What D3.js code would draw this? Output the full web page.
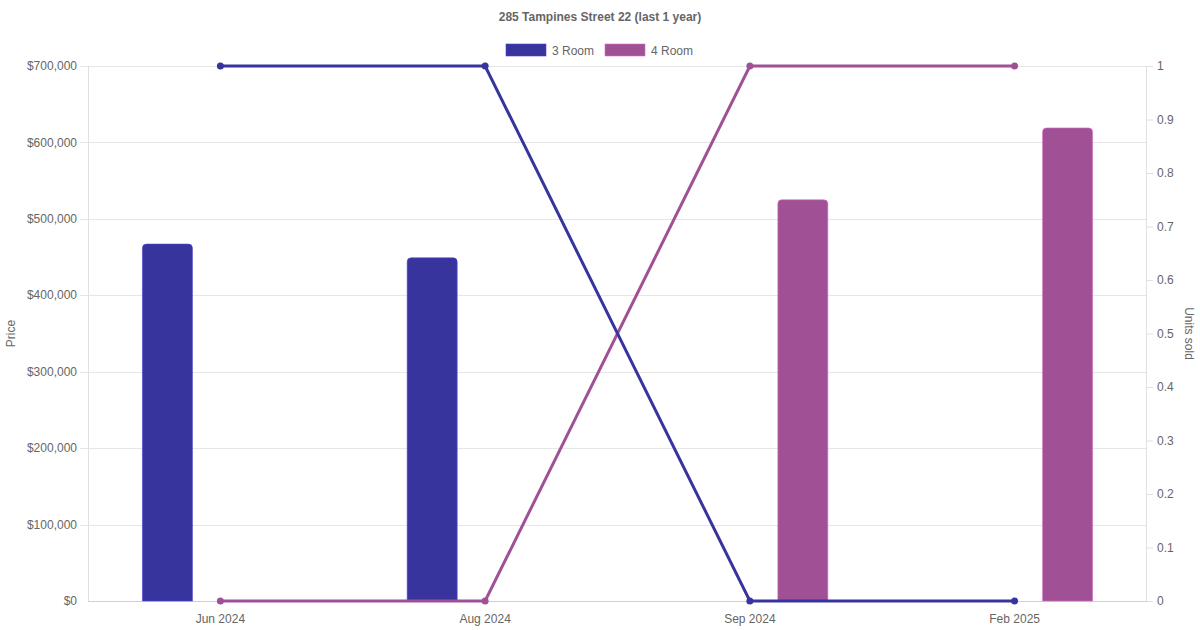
<html>
<head>
<script src="https://cdn.jsdelivr.net/npm/d3@7"></script>
<style>
  body { margin: 0; background: #fff; }
  text { font-family: "Liberation Sans", Arial, sans-serif; }
</style>
</head>
<body>
<script>

var months = ["Jun 2024", "Aug 2024", "Sep 2024", "Feb 2025"];
var series = ["3 Room", "4 Room"];
var colors = ["#38349e", "#a05195"];

// median price per month (null = no sale)
var price3 = [467000, 449000, null, null];
var price4 = [null, null, 525000, 619000];

// units sold
var units3 = [1, 1, 0, 0];
var units4 = [0, 0, 1, 1];

var priceTicks = [0, 100000, 200000, 300000, 400000, 500000, 600000, 700000];
var unitTicks = [0, 0.1, 0.2, 0.3, 0.4, 0.5, 0.6, 0.7, 0.8, 0.9, 1];

var W = 1200, H = 630;
var margin = {top: 66, right: 53, bottom: 29, left: 88};
var width = W - margin.left - margin.right,
    height = H - margin.top - margin.bottom;

var svg = d3.select("body").append("svg").attr("width", W).attr("height", H);
var g = svg.append("g").attr("transform", "translate(" + margin.left + "," + margin.top + ")");

var x = d3.scaleBand().domain(months).range([0, width]);
var xSub = d3.scaleBand().domain(series).range([0, x.bandwidth() * 0.8]);
var yPrice = d3.scaleLinear().domain([0, 700000]).range([height, 0]);
var yUnits = d3.scaleLinear().domain([0, 1]).range([height, 0]);

// gridlines
g.append("g").selectAll("line").data(priceTicks).enter().append("line")
    .attr("x1", function(d) { return d === 0 ? 0 : -8; })
    .attr("x2", width)
    .attr("y1", function(d) { return Math.round(yPrice(d)) + 0.5; })
    .attr("y2", function(d) { return Math.round(yPrice(d)) + 0.5; })
    .attr("stroke", function(d) { return d === 0 ? "#d0d0d0" : "#e6e6e6"; });

// left + right borders
g.append("line").attr("x1", 0.5).attr("x2", 0.5).attr("y1", 0).attr("y2", height).attr("stroke", "#e0e0e0");
g.append("line").attr("x1", width - 0.5).attr("x2", width - 0.5).attr("y1", 0).attr("y2", height).attr("stroke", "#e0e0e0");

// left axis labels
g.append("g").selectAll("text").data(priceTicks).enter().append("text")
    .attr("x", -11)
    .attr("y", function(d) { return yPrice(d); })
    .attr("dy", "0.35em")
    .attr("text-anchor", "end")
    .attr("font-size", 12)
    .attr("fill", "#666")
    .text(function(d) { return "$" + d3.format(",")(d); });

// right axis
var yAxisR = d3.axisRight(yUnits).tickValues(unitTicks).tickSize(6).tickPadding(4)
    .tickFormat(function(d) { return d3.format("~g")(d); });
var ra = g.append("g").attr("transform", "translate(" + width + ",0)").call(yAxisR);
ra.select(".domain").remove();
ra.selectAll("line").attr("stroke", "#e0e0e0");
ra.selectAll("text").attr("font-size", 12).attr("fill", "#666").attr("font-family", "Liberation Sans, Arial, sans-serif");

// bottom labels
g.append("g").selectAll("text").data(months).enter().append("text")
    .attr("x", function(d) { return x(d) + x.bandwidth() / 2; })
    .attr("y", height + 22)
    .attr("text-anchor", "middle")
    .attr("font-size", 12)
    .attr("fill", "#666")
    .text(function(d) { return d; });

// bars (rounded top)
function barPath(x0, y0, w, h, r) {
    r = Math.min(r, h);
    return "M" + x0 + "," + (y0 + h) + "V" + (y0 + r) +
        "Q" + x0 + "," + y0 + " " + (x0 + r) + "," + y0 +
        "H" + (x0 + w - r) + "Q" + (x0 + w) + "," + y0 + " " + (x0 + w) + "," + (y0 + r) +
        "V" + (y0 + h) + "Z";
}
var priceSets = [price3, price4];
var barW = 50;
priceSets.forEach(function(vals, si) {
    g.append("g").selectAll("path").data(months).enter()
        .filter(function(d, i) { return vals[i] != null; })
        .append("path")
        .attr("d", function(d) {
            var i = months.indexOf(d);
            var cx = x(d) + x.bandwidth() * 0.1 + xSub(series[si]) + xSub.bandwidth() / 2;
            var top = yPrice(vals[i]);
            return barPath(cx - barW / 2, top, barW, height - top, 4);
        })
        .attr("fill", colors[si])
        .attr("stroke", d3.color(colors[si]).brighter(0.8))
        .attr("stroke-width", 0.6);
});

// unit lines
var unitSets = [units3, units4];
var line = d3.line()
    .x(function(d, i) { return x(months[i]) + x.bandwidth() / 2; })
    .y(function(d) { return yUnits(d); });
[1, 0].forEach(function(si) {
    var vals = unitSets[si];
    g.append("path").datum(vals)
        .attr("d", line)
        .attr("fill", "none")
        .attr("stroke", colors[si])
        .attr("stroke-width", 3);
    g.append("g").selectAll("circle").data(vals).enter().append("circle")
        .attr("cx", function(d, i) { return x(months[i]) + x.bandwidth() / 2; })
        .attr("cy", function(d) { return yUnits(d); })
        .attr("r", 3.5)
        .attr("fill", colors[si]);
});

// axis titles
svg.append("text")
    .attr("transform", "translate(15," + (margin.top + height / 2) + ") rotate(-90)")
    .attr("text-anchor", "middle")
    .attr("font-size", 12)
    .attr("fill", "#666")
    .text("Price");
svg.append("text")
    .attr("transform", "translate(1185," + (margin.top + height / 2) + ") rotate(90)")
    .attr("text-anchor", "middle")
    .attr("font-size", 12)
    .attr("fill", "#666")
    .text("Units sold");

// title
svg.append("text")
    .attr("x", W / 2)
    .attr("y", 21)
    .attr("text-anchor", "middle")
    .attr("font-size", 12)
    .attr("font-weight", "bold")
    .attr("fill", "#666")
    .text("285 Tampines Street 22 (last 1 year)");

// legend
var legendX = [506, 605];
series.forEach(function(s, i) {
    var lg = svg.append("g").attr("transform", "translate(" + legendX[i] + ",44)");
    lg.append("rect").attr("width", 40).attr("height", 12).attr("fill", colors[i])
        .attr("stroke", d3.color(colors[i]).brighter(0.8)).attr("stroke-width", 0.6);
    lg.append("text").attr("x", 46).attr("y", 10.5).attr("font-size", 12).attr("fill", "#666").text(s);
});

</script>
</body>
</html>
